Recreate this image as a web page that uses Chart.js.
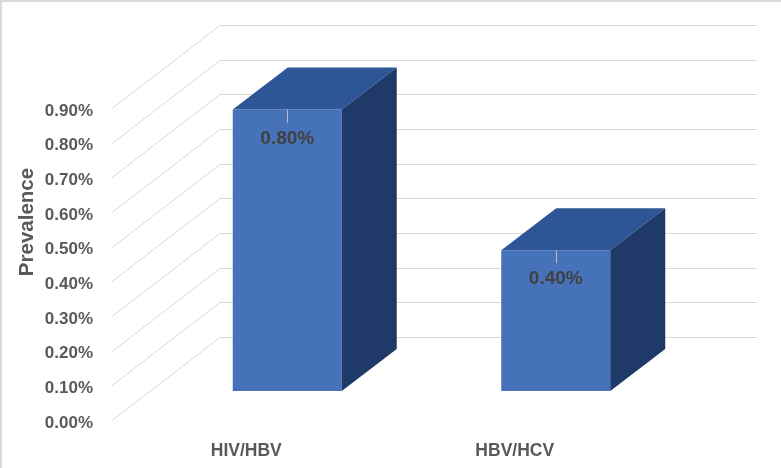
<!DOCTYPE html>
<html>
<head>
<meta charset="utf-8">
<script src="https://cdn.jsdelivr.net/npm/chart.js@4"></script>
<style>
    body { margin: 0; background: #ffffff; }
    canvas { display: block; }
</style>
</head>
<body>
<canvas id="chart" width="781" height="468"></canvas>
<script>
// Chart data
const categories = ['HIV/HBV', 'HBV/HCV'];
const prevalence = [0.008, 0.004];
const yMax = 0.009;
const yStep = 0.001;
const axisTitle = 'Prevalence';

// 3D look (oblique projection offsets, px)
const wallDepth = { x: 108, y: -83 };
const frontShift = { x: 41, y: -29 };
const barDepth = { x: 55, y: -42 };
const barPlaneScale = 1.015; // bars sit a bit closer to the viewer than the front edge

const colors = {
    front: '#4672ba',
    top: '#2e5596',
    side: '#1f3a68',
    grid: '#d9d9d9',
    tick: '#595959',
    label: '#404040'
};

const fontFamily = '"Liberation Sans", Arial, sans-serif';
const pct = (v) => (v * 100).toFixed(2) + '%';

const bars3d = {
    id: 'bars3d',
    beforeDraw: (chart) => {
        const ctx = chart.ctx;
        ctx.save();
        ctx.fillStyle = '#ffffff';
        ctx.fillRect(0, 0, chart.width, chart.height);
        // outer frame, top and left only
        ctx.fillStyle = colors.grid;
        ctx.fillRect(0, 0, chart.width, 2);
        ctx.fillRect(0, 0, 2, chart.height);
        ctx.restore();
    },
    beforeDatasetsDraw: (chart) => {
        const { ctx, chartArea } = chart;
        const y = chart.scales.y;
        ctx.save();
        ctx.strokeStyle = colors.grid;
        ctx.lineWidth = 1;
        y.ticks.forEach(t => {
            const py = Math.round(y.getPixelForValue(t.value)) + 0.5;
            // left wall
            ctx.beginPath();
            ctx.moveTo(chartArea.left, py);
            ctx.lineTo(chartArea.left + wallDepth.x, py + wallDepth.y);
            // back wall
            ctx.lineTo(chartArea.right + wallDepth.x, py + wallDepth.y);
            ctx.stroke();
        });
        ctx.restore();
    },
    afterDatasetsDraw: (chart) => {
        const ctx = chart.ctx;
        const meta = chart.getDatasetMeta(0);
        ctx.save();
        meta.data.forEach((bar, i) => {
            const { x, y, base, width } = bar.getProps(['x', 'y', 'base', 'width'], true);
            const l = x - width / 2 + frontShift.x;
            const r = x + width / 2 + frontShift.x;
            const b = base + frontShift.y;
            const t = b - (base - y) * barPlaneScale;

            // front face
            ctx.fillStyle = colors.front;
            ctx.fillRect(l, t, r - l, b - t);

            // top face
            ctx.fillStyle = colors.top;
            ctx.beginPath();
            ctx.moveTo(l, t);
            ctx.lineTo(l + barDepth.x, t + barDepth.y);
            ctx.lineTo(r + barDepth.x, t + barDepth.y);
            ctx.lineTo(r, t);
            ctx.closePath();
            ctx.fill();

            // side face
            ctx.fillStyle = colors.side;
            ctx.beginPath();
            ctx.moveTo(r, t);
            ctx.lineTo(r + barDepth.x, t + barDepth.y);
            ctx.lineTo(r + barDepth.x, b + barDepth.y);
            ctx.lineTo(r, b);
            ctx.closePath();
            ctx.fill();

            // data label with leader line
            const cx = (l + r) / 2;
            ctx.strokeStyle = '#bfbfbf';
            ctx.lineWidth = 1;
            ctx.beginPath();
            ctx.moveTo(Math.round(cx) + 0.5, t);
            ctx.lineTo(Math.round(cx) + 0.5, t + 13);
            ctx.stroke();

            ctx.fillStyle = colors.label;
            ctx.font = 'bold 19px ' + fontFamily;
            ctx.textAlign = 'center';
            ctx.textBaseline = 'middle';
            ctx.fillText(pct(prevalence[i]), cx, t + 29);
        });
        ctx.restore();
    },
    afterDraw: (chart) => {
        const ctx = chart.ctx;
        ctx.save();
        ctx.translate(27, 222);
        ctx.rotate(-Math.PI / 2);
        ctx.fillStyle = colors.tick;
        ctx.font = 'bold 20.5px ' + fontFamily;
        ctx.textAlign = 'center';
        ctx.textBaseline = 'middle';
        ctx.fillText(axisTitle, 0, 0);
        ctx.restore();
    }
};

new Chart(document.getElementById('chart'), {
    type: 'bar',
    data: {
        labels: categories,
        datasets: [{
            label: axisTitle,
            data: prevalence,
            backgroundColor: 'rgba(0,0,0,0)',
            borderWidth: 0,
            barPercentage: 0.406,
            categoryPercentage: 1
        }]
    },
    options: {
        responsive: false,
        animation: false,
        events: [],
        layout: {
            padding: { top: 108, right: 132, left: 0, bottom: 0 }
        },
        plugins: {
            legend: { display: false },
            tooltip: { enabled: false }
        },
        scales: {
            x: {
                grid: { display: false, drawTicks: false },
                border: { display: false },
                ticks: {
                    padding: 21,
                    color: colors.tick,
                    font: { family: fontFamily, size: 17.5, weight: 'bold' }
                },
                afterFit: (scale) => { scale.height = 48; }
            },
            y: {
                min: 0,
                max: yMax,
                grid: { display: false, drawTicks: false },
                border: { display: false },
                ticks: {
                    stepSize: yStep,
                    padding: 19,
                    labelOffset: 3,
                    color: colors.tick,
                    font: { family: fontFamily, size: 17, weight: 'bold' },
                    callback: (v) => pct(v)
                },
                afterFit: (scale) => { scale.width = 112; }
            }
        }
    },
    plugins: [bars3d]
});
</script>
</body>
</html>
